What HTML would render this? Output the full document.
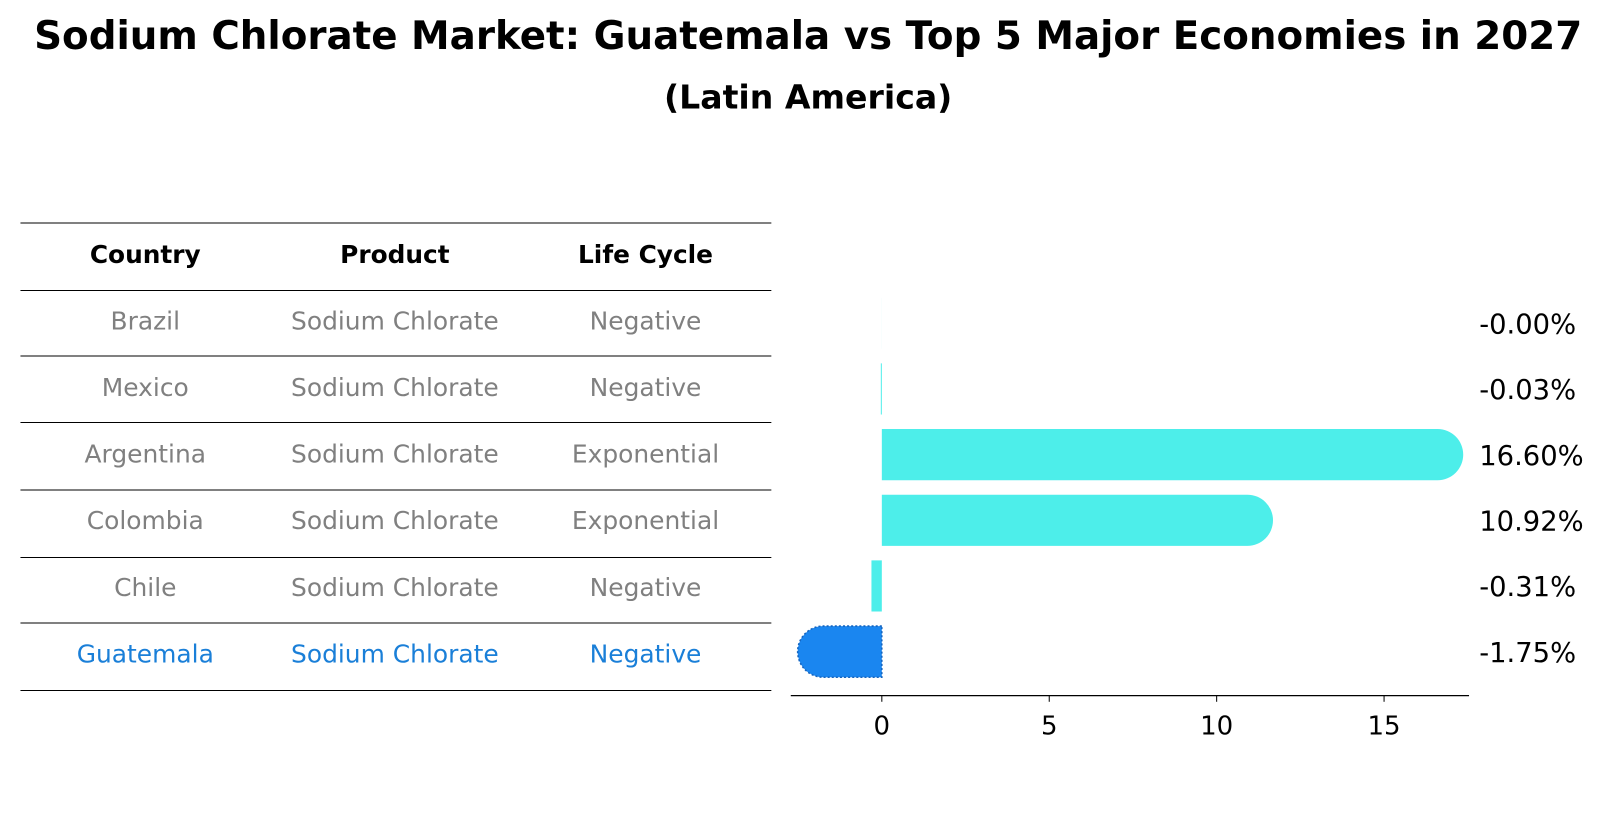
<!DOCTYPE html>
<html><head><meta charset="utf-8"><style>
body{margin:0;width:1604px;height:823px;background:#fff;font-family:"DejaVu Sans","Liberation Sans",sans-serif;overflow:hidden}
text{font-family:"DejaVu Sans","Liberation Sans",sans-serif}
</style></head><body>
<svg id="s" width="1604" height="823">
<g id="root" transform="scale(1.023)">
<text id="ttl" x="790" y="48" text-anchor="middle" font-size="28" font-weight="bold">Sodium Chlorate Market: Guatemala vs Top 5 Major Economies in 2027</text>
<text id="sub" x="790" y="106" text-anchor="middle" font-size="24" font-weight="bold">(Latin America)</text>
<g id="tbl"></g><g id="bars"></g><g id="axis"></g>
</g>
</svg>
<script>
const countries=["Brazil","Mexico","Argentina","Colombia","Chile","Guatemala"];
const products=["Sodium Chlorate","Sodium Chlorate","Sodium Chlorate","Sodium Chlorate","Sodium Chlorate","Sodium Chlorate"];
const lifecycles=["Negative","Negative","Exponential","Exponential","Negative","Negative"];
const values=[-0.001,-0.03,16.60,10.92,-0.31,-1.75];
const labels=["-0.00%","-0.03%","16.60%","10.92%","-0.31%","-1.75%"];
const ticks=[0,5,10,15];
const NS="http://www.w3.org/2000/svg";
const root=document.getElementById('root');
function mk(t,a,p,txt){const e=document.createElementNS(NS,t);for(const k in a)e.setAttribute(k,a[k]);if(txt!==undefined)e.textContent=txt;p.appendChild(e);return e;}
function fit(el,w){const cur=el.getComputedTextLength();const fs=parseFloat(el.getAttribute('font-size'));if(cur>0)el.setAttribute('font-size',(fs*w/cur).toFixed(2));}
function probe(txt,fs,bold,w){const t=mk('text',{x:0,y:-100,'font-size':fs,'font-weight':bold?'bold':'normal'},root,txt);const c=t.getComputedTextLength();root.removeChild(t);return c>0?fs*w/c:fs;}
fit(document.getElementById('ttl'),1513);
fit(document.getElementById('sub'),282);
const cellFs=probe("Sodium Chlorate",16,false,203);
const headFs=probe("Product",16,true,107);
const valFs=probe("16.60%",20,false,102);
const tickFs=valFs*0.95;
const tbl=document.getElementById('tbl'),bars=document.getElementById('bars'),axis=document.getElementById('axis');
const lineYs=[218,284,348,413,479,545,609,675];
lineYs.forEach(y=>{const l=mk('line',{x1:20,x2:754,y1:y,y2:y,stroke:'#000','stroke-width':1},tbl);

});
const cx=[142,386,631];
["Country","Product","Life Cycle"].forEach((h,i)=>{const t=mk('text',{x:cx[i],y:257,'text-anchor':'middle','font-size':headFs,'font-weight':'bold'},tbl,h);

});
countries.forEach((c,r)=>{const y=322+r*65.1;const col=c==="Guatemala"?"#1a7fd8":"#808080";
[c,products[r],lifecycles[r]].forEach((v,i)=>{const t=mk('text',{x:cx[i],y:y,'text-anchor':'middle','font-size':cellFs,fill:col},tbl,v);

});});
const x0=862,sc=32.73;const X=v=>x0+v*sc;
const rowY=r=>316+r*64.2;const h=50,rad=25;
values.forEach((v,r)=>{const cy=rowY(r);const xa=X(0),xb=X(v);
const col=countries[r]==="Guatemala"?"#1a86f0":"#4deeea";
let d;
if(Math.abs(v)>1){const s=v>0?1:-1;
d=`M${xa},${cy-h/2} L${xb},${cy-h/2} A${rad},${rad} 0 0 ${s>0?1:0} ${xb},${cy+h/2} L${xa},${cy+h/2} Z`;}
else{const a=Math.min(xa,xb),b=Math.max(xa,xb);d=`M${a},${cy-h/2} L${b},${cy-h/2} L${b},${cy+h/2} L${a},${cy+h/2} Z`;}
const p=mk('path',{d:d,fill:col},bars);
if(countries[r]==="Guatemala"){p.setAttribute('stroke','#1565c0');p.setAttribute('stroke-dasharray','2,2');p.setAttribute('stroke-width','1.5');}


const t=mk('text',{x:1446,y:cy+10,'font-size':valFs},bars,labels[r]);

});
const al=mk('line',{x1:773,x2:1436,y1:680,y2:680,stroke:'#000','stroke-width':1.3},axis);


ticks.forEach(v=>{const tk=mk('line',{x1:X(v),x2:X(v),y1:680,y2:686,stroke:'#000'},axis);


const t=mk('text',{x:X(v),y:718,'text-anchor':'middle','font-size':tickFs},axis,String(v));

});
</script>
</body></html>
